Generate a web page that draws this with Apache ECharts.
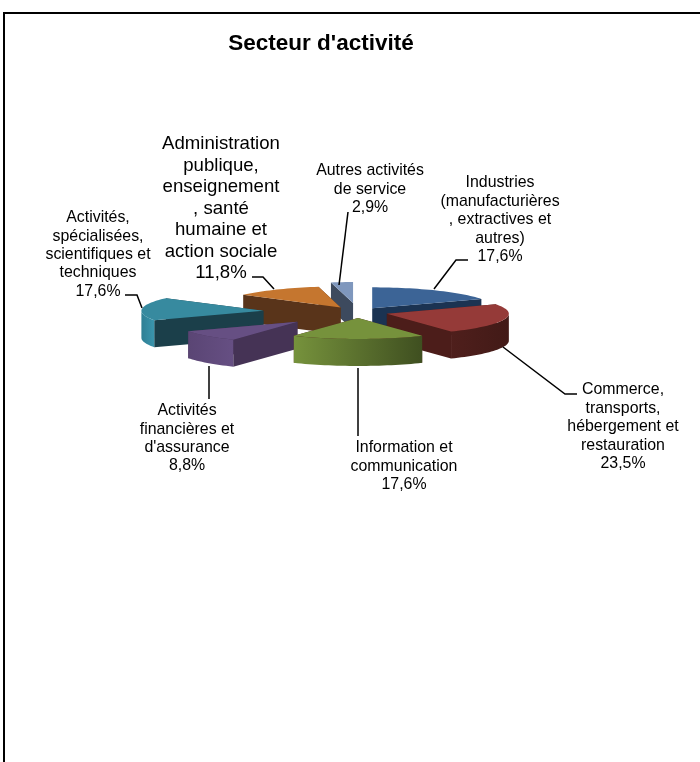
<!DOCTYPE html>
<html>
<head>
<meta charset="utf-8">
<style>html,body{margin:0;padding:0;background:#fff}#chart{width:700px;height:762px}</style>
<script src="https://cdn.jsdelivr.net/npm/echarts@6/dist/echarts.min.js"></script>
</head>
<body>
<div id="chart"></div>
<script>
var names = [
    "Industries\n(manufacturières\n, extractives et\nautres)",
    "Commerce,\ntransports,\nhébergement et\nrestauration",
    "Information et\ncommunication",
    "Activités\nfinancières et\nd'assurance",
    "Activités,\nspécialisées,\nscientifiques et\ntechniques",
    "Administration\npublique,\nenseignement\n, santé\nhumaine et\naction sociale",
    "Autres activités\nde service"
];
var values = [17.6, 23.5, 17.6, 8.8, 17.6, 11.8, 2.9];

// look of each slice
var explode = [27, 30, 33, 82, 95, 33, 54];
var paintOrder = [2, 5, 7, 6, 4, 3, 1];
var topColors = ['#3c6496', '#953a38', '#76923c', '#664f83', '#378a9f', '#c5762f', '#7f97bd'];
var faceColors = ['#1b3352', '#4c1d1a', '#4c1d1a', '#453355', '#1b3f4a', '#59341a', '#3d4a5e'];
var wallColors = [
    ['#1f3a5f', '#1b3352'],
    ['#4f1f1c', '#421a17'],
    ['#76923c', '#3f4f20'],
    ['#664f83', '#5a4574'],
    ['#3a95ad', '#2f7f94'],
    ['#59341a', '#59341a'],
    ['#3d4a5e', '#3d4a5e']
];
// label centre x, first line y, font size, line height, leader points
var labels = [
    {x: 500, y: 183, size: 15.9, lh: 18.5, line: [[434, 289], [456, 260], [468, 260]]},
    {x: 623, y: 390, size: 15.9, lh: 18.5, line: [[503, 347], [565, 394], [577, 394]]},
    {x: 404, y: 448, size: 15.9, lh: 18.2, line: [[358, 368], [358, 436]]},
    {x: 187, y: 411, size: 15.9, lh: 18.2, line: [[209, 366], [209, 399]]},
    {x: 98, y: 218, size: 15.9, lh: 18.3, line: [[142, 308], [137, 295], [125, 295]]},
    {x: 221, y: 144, size: 18.6, lh: 21.5, line: [[274, 289], [263, 277], [252, 277]]},
    {x: 370, y: 171, size: 15.9, lh: 18.5, line: [[339, 285], [348, 212]]}
];

var cx = 358, cy = 312.3, rx = 122, ry = 21, depth = 27;
var total = values.reduce(function (a, b) { return a + b; }, 0);

function point(ox, oy, deg) {
    var a = deg * Math.PI / 180;
    return [ox + rx * Math.sin(a), oy - ry * Math.cos(a)];
}
function arcPoints(ox, oy, from, to) {
    var pts = [];
    var n = Math.max(2, Math.ceil((to - from) / 2));
    for (var i = 0; i <= n; i++) {
        pts.push(point(ox, oy, from + (to - from) * i / n));
    }
    return pts;
}
function down(pts) {
    return pts.map(function (p) { return [p[0], p[1] + depth]; });
}

var startAngles = [];
var sum = 0;
for (var s = 0; s < values.length; s++) {
    startAngles[s] = sum / total * 360;
    sum += values[s];
}

function renderSlice(params, api) {
    var i = params.dataIndex;
    var from = startAngles[i];
    var to = from + api.value(0) / total * 360;
    var mid = (from + to) / 2 * Math.PI / 180;
    var ox = cx + explode[i] * Math.sin(mid);
    var oy = cy - explode[i] * ry / rx * Math.cos(mid);
    var z = paintOrder[i] * 10;
    var children = [];

    // the two cut faces, farther one first
    var pa = point(ox, oy, from), pb = point(ox, oy, to);
    var faces = pa[1] < pb[1] ? [pa, pb] : [pb, pa];
    faces.forEach(function (p, k) {
        children.push({
            type: 'polygon',
            z2: z + k,
            shape: {points: [[ox, oy], p, [p[0], p[1] + depth], [ox, oy + depth]]},
            style: {fill: faceColors[i]}
        });
    });

    // outer wall, only the part turned to the viewer
    var wf = Math.max(from, 90), wt = Math.min(to, 270);
    if (wt > wf) {
        var arc = arcPoints(ox, oy, wf, wt);
        children.push({
            type: 'polygon',
            z2: z + 2,
            shape: {points: arc.concat(down(arc).reverse())},
            style: {
                fill: new echarts.graphic.LinearGradient(wf < 180 ? 1 : 0, 0, wf < 180 ? 0 : 1, 0, [
                    {offset: 0, color: wallColors[i][1]},
                    {offset: 1, color: wallColors[i][0]}
                ])
            }
        });
    }

    // top of the slice
    children.push({
        type: 'polygon',
        z2: z + 3,
        shape: {points: [[ox, oy]].concat(arcPoints(ox, oy, from, to))},
        style: {fill: topColors[i]}
    });

    // label and leader line
    var lab = labels[i];
    children.push({
        type: 'polyline',
        z2: 200,
        shape: {points: lab.line},
        style: {stroke: '#000', lineWidth: 1.5, fill: null}
    });
    children.push({
        type: 'text',
        z2: 201,
        style: {
            text: names[i] + '\n' + api.value(0).toFixed(1).replace('.', ',') + '%',
            x: lab.x,
            y: lab.y - lab.lh / 2,
            align: 'center',
            verticalAlign: 'top',
            font: lab.size + 'px "Liberation Sans", Arial, sans-serif',
            lineHeight: lab.lh,
            fill: '#000'
        }
    });
    return {type: 'group', children: children};
}

var myChart = echarts.init(document.getElementById('chart'), null, {renderer: 'canvas'});
myChart.setOption({
    animation: false,
    backgroundColor: '#fff',
    title: {
        text: "Secteur d'activité",
        left: 316,
        top: 27,
        textAlign: 'center',
        textStyle: {
            fontFamily: '"Liberation Sans", Arial, sans-serif',
            fontSize: 22.5,
            fontWeight: 'bold',
            color: '#000'
        }
    },
    graphic: [{
        type: 'polyline',
        shape: {points: [[4, 770], [4, 13], [700, 13]]},
        style: {stroke: '#000', lineWidth: 2, fill: null}
    }],
    series: [{
        type: 'custom',
        coordinateSystem: 'none',
        renderItem: renderSlice,
        encode: {value: 0},
        data: values.map(function (v) { return [v]; })
    }]
});
</script>
</body>
</html>
